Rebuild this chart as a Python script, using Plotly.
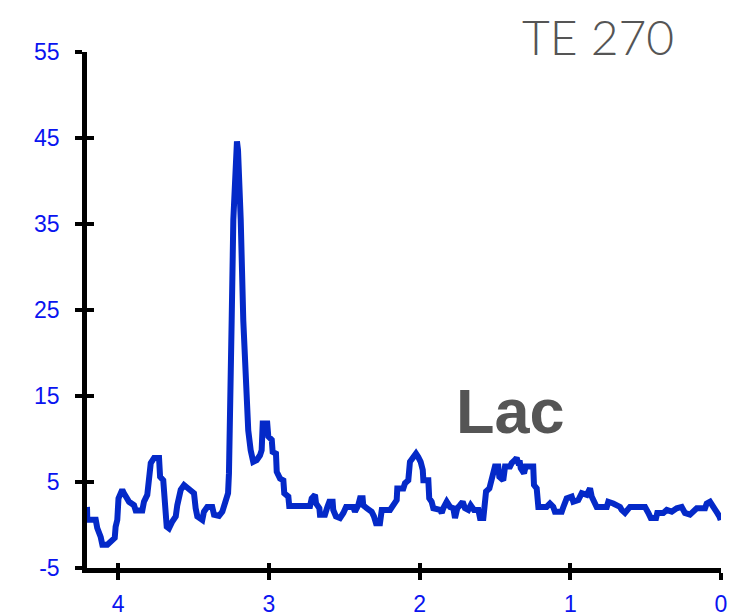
import plotly.graph_objects as go

ppm = [4.207, 4.205, 4.149, 4.139, 4.116, 4.105, 4.072, 4.050, 4.023, 4.017, 4.006, 3.998,
       3.973, 3.962, 3.950, 3.928, 3.895, 3.884, 3.840, 3.829, 3.807, 3.796, 3.784, 3.762,
       3.729, 3.722, 3.701, 3.678, 3.663, 3.641, 3.618, 3.608, 3.585, 3.563, 3.541, 3.519,
       3.497, 3.486, 3.475, 3.442, 3.431, 3.409, 3.376, 3.364, 3.331, 3.309, 3.298, 3.287,
       3.271, 3.265, 3.261, 3.247, 3.236, 3.227, 3.218, 3.212, 3.205, 3.198, 3.187, 3.170,
       3.159, 3.147, 3.137, 3.121, 3.104, 3.081, 3.059, 3.048, 3.041, 3.011, 3.004, 2.981,
       2.975, 2.953, 2.948, 2.926, 2.904, 2.898, 2.871, 2.865, 2.727, 2.716, 2.694, 2.687,
       2.665, 2.661, 2.628, 2.612, 2.599, 2.577, 2.573, 2.555, 2.528, 2.506, 2.488, 2.440,
       2.429, 2.407, 2.395, 2.378, 2.374, 2.351, 2.318, 2.303, 2.289, 2.263, 2.251, 2.196,
       2.152, 2.148, 2.108, 2.097, 2.075, 2.064, 2.046, 2.024, 2.009, 1.993, 1.979, 1.975,
       1.942, 1.936, 1.920, 1.909, 1.865, 1.853, 1.843, 1.820, 1.798, 1.776, 1.765, 1.750,
       1.732, 1.714, 1.699, 1.677, 1.661, 1.639, 1.610, 1.599, 1.577, 1.559, 1.537, 1.526,
       1.511, 1.500, 1.478, 1.471, 1.445, 1.433, 1.400, 1.389, 1.367, 1.356, 1.345, 1.334,
       1.329, 1.307, 1.296, 1.246, 1.241, 1.223, 1.212, 1.157, 1.135, 1.113, 1.102, 1.057,
       1.046, 1.024, 0.991, 0.980, 0.947, 0.924, 0.891, 0.869, 0.858, 0.847, 0.825, 0.758,
       0.748, 0.715, 0.670, 0.659, 0.637, 0.604, 0.559, 0.537, 0.504, 0.482, 0.466, 0.431,
       0.423, 0.383, 0.360, 0.327, 0.294, 0.261, 0.239, 0.206, 0.184, 0.161, 0.106, 0.095,
       0.073, 0.055, 0.040, 0.025, 0.011, 0.002]

signal = [2.1, 0.6, 0.6, -0.35, -1.4, -2.3, -2.3, -1.9, -1.5, -0.2, 0.6, 3.1,
          4.1, 3.7, 3.3, 2.7, 2.3, 1.7, 1.7, 2.7, 3.5, 4.85, 7.2, 7.8,
          7.8, 5.6, 5.2, -0.2, -0.4, 0.4, 1.0, 2.3, 4.1, 4.65, 4.25, 3.9,
          3.7, 1.95, 1.0, 0.6, 1.55, 2.1, 2.1, 1.2, 1.05, 1.55, 2.3, 2.9,
          3.7, 6.0, 12.2, 23.8, 35.5, 41.3, 44.2, 44.6, 43.6, 40.7, 35.5, 23.8,
          18.0, 12.8, 11.0, 8.7, 7.35, 7.55, 8.1, 8.7, 11.8, 11.8, 10.3, 9.9,
          8.5, 8.3, 6.2, 5.4, 5.2, 3.7, 3.3, 2.2, 2.2, 3.1, 3.5, 2.5,
          1.95, 1.2, 1.2, 2.1, 2.7, 2.7, 1.75, 1.0, 0.8, 1.4, 2.1, 2.1,
          1.55, 2.3, 3.1, 3.1, 2.3, 1.95, 1.55, 1.0, 0.2, 0.2, 1.75, 1.75,
          2.9, 4.25, 4.25, 4.85, 5.2, 7.35, 7.8, 8.3, 7.9, 7.35, 6.4, 5.2,
          5.2, 3.1, 2.7, 1.95, 1.75, 1.4, 1.95, 2.7, 2.1, 1.95, 0.8, 1.95,
          2.3, 2.7, 1.95, 1.75, 2.3, 1.75, 1.75, 0.8, 0.8, 3.9, 4.25, 5.2,
          6.0, 6.8, 6.8, 5.6, 5.2, 6.8, 6.8, 7.2, 7.55, 7.8, 7.2, 7.2,
          6.6, 6.0, 6.8, 6.8, 4.65, 4.25, 2.1, 2.1, 2.5, 2.1, 1.55, 1.55,
          2.1, 3.1, 3.3, 2.7, 2.9, 3.7, 3.5, 4.25, 3.3, 2.9, 2.1, 2.1,
          2.7, 2.5, 2.1, 1.75, 1.4, 2.1, 2.1, 1.95, 2.1, 1.4, 0.8, 0.8,
          1.4, 1.4, 1.75, 1.55, 1.95, 2.1, 1.4, 1.2, 1.55, 1.95, 1.95, 2.5,
          2.7, 2.1, 1.55, 1.4, 1.0, 0.58]

x_ticks = [4, 3, 2, 1, 0]
x_tick_labels = ["4", "3", "2", "1", "0"]
y_ticks = [-5, 5, 15, 25, 35, 45, 55]
y_tick_labels = ["-5", "5", "15", "25", "35", "45", "55"]

TICK_BLUE = "#0a14f0"
LINE_BLUE = "#0429c8"

W, H = 753, 613
ML, MR, MT, MB = 79, 40, 44, 53
PW, PH = W - ML - MR, H - MT - MB


def paper_x(px):
    return (px - 8 - ML) / PW


def paper_y(py):
    return 1 - (py - 8 - MT) / PH


fig = go.Figure()
fig.add_trace(go.Scatter(x=ppm, y=signal, mode="lines",
                         line=dict(color=LINE_BLUE, width=6),
                         showlegend=False, hoverinfo="skip"))
fig.add_trace(go.Scatter(x=[], y=[], xaxis="x2", yaxis="y2",
                         showlegend=False, hoverinfo="skip"))

axis_common = dict(showgrid=False, zeroline=False, showline=True, automargin=False,
                   linecolor="black", linewidth=4.5,
                   ticks="outside", ticklen=7, tickwidth=4, tickcolor="black",
                   tickfont=dict(family="Liberation Sans, Arial", size=23, color=TICK_BLUE))

fig.update_layout(
    width=W, height=H,
    margin=dict(l=ML, r=MR, t=MT, b=MB),
    paper_bgcolor="white", plot_bgcolor="white",
    xaxis=dict(range=[4.207, 0], tickvals=x_ticks, ticktext=x_tick_labels,
               ticklabelstandoff=5, **axis_common),
    yaxis=dict(range=[-5, 55], tickvals=y_ticks, ticktext=y_tick_labels,
               ticklabelstandoff=11, **axis_common),
    xaxis2=dict(overlaying="x", matches="x", range=[4.207, 0], tickvals=x_ticks,
                ticks="inside", ticklen=5, tickwidth=4, tickcolor="black", automargin=False,
                showticklabels=False, showline=False, showgrid=False, zeroline=False),
    yaxis2=dict(overlaying="y", matches="y", range=[-5, 55], tickvals=y_ticks,
                ticks="inside", ticklen=7, tickwidth=4, tickcolor="black", automargin=False,
                showticklabels=False, showline=False, showgrid=False, zeroline=False),
    annotations=[
        dict(x=paper_x(598), y=paper_y(37), xref="paper", yref="paper", text="TE 270",
             showarrow=False, xanchor="center", yanchor="middle",
             font=dict(family="Lato, Open Sans", size=48, color="#555555", weight=300)),
        dict(x=paper_x(510), y=paper_y(411), xref="paper", yref="paper", text="Lac",
             showarrow=False, xanchor="center", yanchor="middle",
             font=dict(family="Liberation Sans, Arial", size=63, color="#555555", weight="bold")),
    ],
)

fig.write_html("out.html")
